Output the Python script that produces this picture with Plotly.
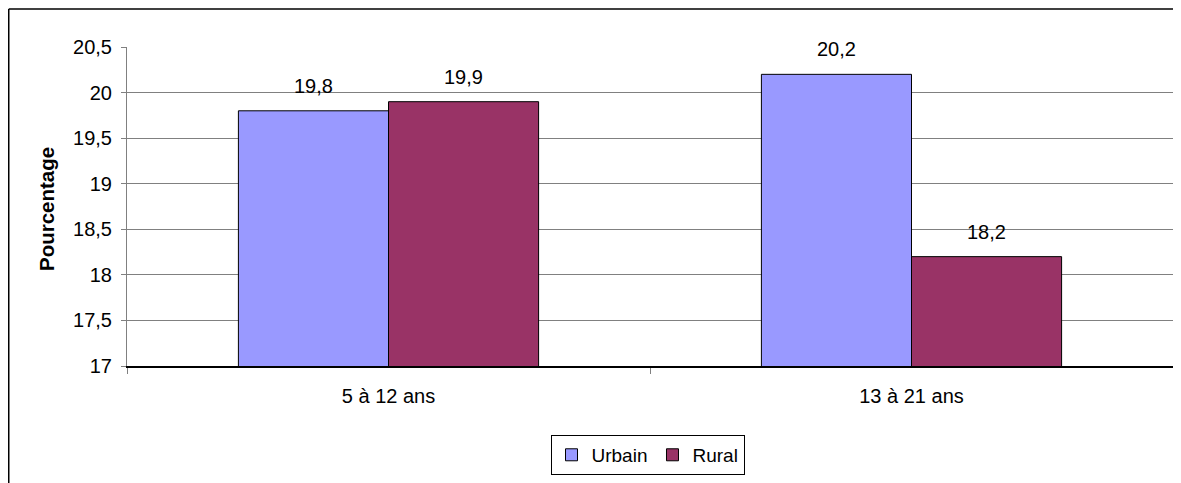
import plotly.graph_objects as go

categories = ["5 à 12 ans", "13 à 21 ans"]
urbain = [19.8, 20.2]
rural = [19.9, 18.2]
series_names = ["Urbain", "Rural"]
y_ticks = [17, 17.5, 18, 18.5, 19, 19.5, 20, 20.5]

FONT = "Liberation Sans, Arial, sans-serif"
FS = 20
OFF = 8  # page body margin
W, H = 1181 - OFF, 483 - OFF
# reference pixel positions of the plot area
REF_L, REF_R, REF_T, REF_B = 127, 1173, 47, 368
ML, MT = REF_L - OFF, REF_T - OFF
MR = W - (REF_R - OFF)
MB = H - (REF_B - OFF)
PW, PH = W - ML - MR, H - MT - MB
BARGAP = 0.426


def px_x(xr):
    return (xr - REF_L) / PW


def px_y(yr):
    return (REF_B - yr) / PH


fig = go.Figure()
fig.add_trace(go.Bar(x=categories, y=urbain, name=series_names[0],
                     marker=dict(color="#9999FF", line=dict(color="black", width=1))))
fig.add_trace(go.Bar(x=categories, y=rural, name=series_names[1],
                     marker=dict(color="#993366", line=dict(color="black", width=1))))

bw = (1 - BARGAP) / 2
for i in range(len(categories)):
    for vals, off in ((urbain, -bw / 2), (rural, bw / 2)):
        fig.add_annotation(x=i + off, y=vals[i], xref="x", yref="y",
                           text=f"{vals[i]:.1f}".replace(".", ","),
                           showarrow=False, yshift=25,
                           font=dict(family=FONT, size=FS, color="black"))

fig.add_annotation(x=px_x(47), y=px_y(210), xref="paper", yref="paper",
                   xanchor="center", yanchor="middle",
                   text="<b>Pourcentage</b>", textangle=-90, showarrow=False,
                   font=dict(family=FONT, size=20.5, color="black"))

# outer chart frame (left and top edges)
fx = px_x(OFF + 0.75)
fy = px_y(OFF + 0.75)
fig.add_shape(type="line", xref="paper", yref="paper", x0=fx, x1=fx, y0=px_y(H + OFF + 5), y1=fy,
              line=dict(color="black", width=1.5))
fig.add_shape(type="line", xref="paper", yref="paper", x0=fx, x1=px_x(1180), y0=fy, y1=fy,
              line=dict(color="black", width=1.5))

fig.update_layout(
    width=W, height=H,
    margin=dict(l=ML, r=MR, t=MT, b=MB),
    barmode="group", bargap=BARGAP, bargroupgap=0,
    plot_bgcolor="white", paper_bgcolor="white",
    separators=", ",
    font=dict(family=FONT, size=FS, color="black"),
    showlegend=True,
    legend=dict(orientation="h", x=px_x(647.5), y=px_y(457.5),
                xanchor="center", yanchor="middle",
                bordercolor="black", borderwidth=1, bgcolor="white",
                font=dict(family=FONT, size=19, color="black"),
                itemwidth=30, tracegroupgap=0),
    xaxis=dict(showline=True, linecolor="black", linewidth=1.5,
               ticks="outside", ticklen=6, tickcolor="#808080", tickson="boundaries",
               ticklabelstandoff=11, showgrid=False, zeroline=False),
    yaxis=dict(range=[17, 20.5], tickvals=y_ticks, tickformat=".1~f",
               showline=True, linecolor="#808080", linewidth=1,
               ticks="outside", ticklen=5, tickcolor="#808080",
               showgrid=True, gridcolor="#808080", gridwidth=1,
               zeroline=False, ticklabelstandoff=5),
)

fig.write_html("out.html")
